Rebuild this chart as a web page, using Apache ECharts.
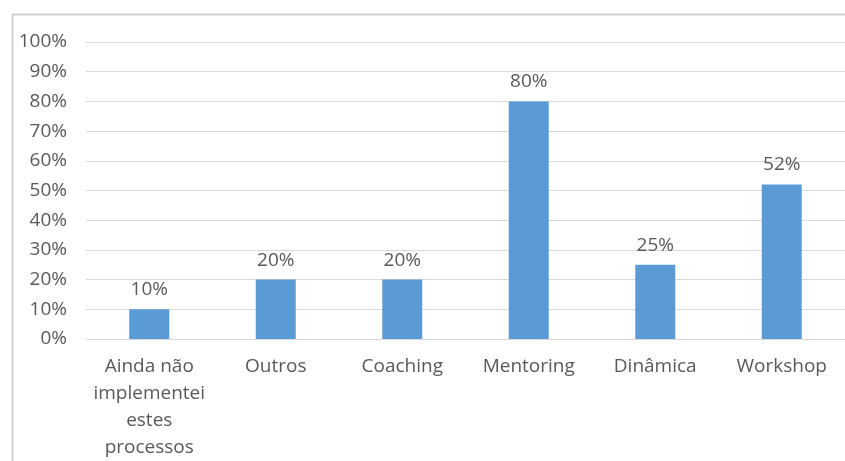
<!DOCTYPE html>
<html>
<head>
<meta charset="utf-8">
<script src="https://cdn.jsdelivr.net/npm/echarts@6/dist/echarts.min.js"></script>
<style>
  html, body { margin: 0; padding: 0; background: #fff; }
  #chart { width: 845px; height: 461px; }
</style>
</head>
<body>
<div id="chart"></div>
<script>
// Categories (line breaks as they appear on the axis)
const categories = [
  'Ainda não\nimplementei\nestes\nprocessos',
  'Outros',
  'Coaching',
  'Mentoring',
  'Dinâmica',
  'Workshop'
];
// Share of respondents, in percent
const values = [10, 20, 20, 80, 25, 52];
// Value axis ticks
const yMin = 0, yMax = 100, yStep = 10;

const FONT = '"Open Sans", "Noto Sans", sans-serif';
const TEXT = '#595959';
const SIZE = 19;

const chart = echarts.init(document.getElementById('chart'), null, { renderer: 'canvas' });
chart.setOption({
  animation: false,
  graphic: [{
    type: 'rect',
    left: 10, top: 12,
    shape: { width: 900, height: 500 },
    style: { fill: 'none', stroke: '#d0d0d0', lineWidth: 2 },
    silent: true
  }],
  grid: { left: 86, top: 42, width: 762, height: 302, containLabel: false },
  xAxis: {
    type: 'category',
    data: categories,
    axisLine: { show: true, lineStyle: { color: '#d9d9d9', width: 1 } },
    axisTick: { show: false },
    axisLabel: {
      interval: 0,
      color: TEXT,
      fontFamily: FONT,
      fontSize: SIZE,
      lineHeight: 27,
      margin: 14
    }
  },
  yAxis: {
    type: 'value',
    min: yMin, max: yMax, interval: yStep,
    axisLine: { show: false },
    axisTick: { show: false },
    splitLine: { lineStyle: { color: '#d9d9d9', width: 1 } },
    axisLabel: {
      color: TEXT,
      fontFamily: FONT,
      fontSize: SIZE,
      margin: 19,
      formatter: v => v + '%'
    }
  },
  series: [{
    type: 'bar',
    data: values,
    barWidth: 40,
    itemStyle: { color: '#5b9bd5' },
    label: {
      show: true,
      position: 'top',
      distance: 10,
      color: TEXT,
      fontFamily: FONT,
      fontSize: SIZE,
      formatter: p => p.value + '%'
    }
  }]
});
</script>
</body>
</html>
